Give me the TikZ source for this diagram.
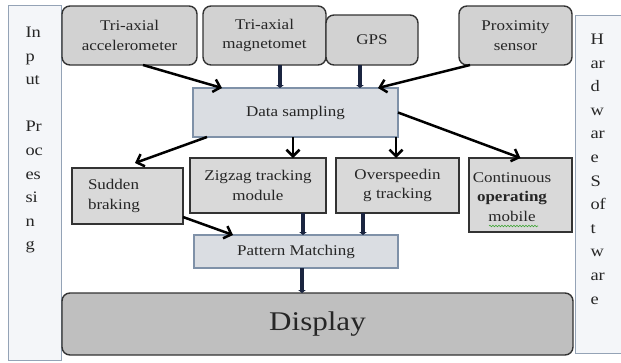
\documentclass[tikz,border=0pt]{standalone}
\usepackage{fontspec}
\setmainfont[FakeStretch=1.15]{Liberation Serif}
\usetikzlibrary{arrows.meta,decorations.pathmorphing}
\definecolor{panelfill}{HTML}{F4F6F9}
\definecolor{paneledge}{HTML}{94A3B6}
\definecolor{topfill}{HTML}{D2D2D2}
\definecolor{boxedge}{HTML}{333333}
\definecolor{midfill}{HTML}{D9D9D9}
\definecolor{procfill}{HTML}{DADDE2}
\definecolor{procedge}{HTML}{7F91A8}
\definecolor{dispfill}{HTML}{BFBFBF}
\definecolor{navy}{HTML}{1B2540}
\definecolor{squiggle}{HTML}{3FA535}
\begin{document}
\begin{tikzpicture}[x=1pt,y=-1pt,
  every node/.style={inner sep=0pt, outer sep=0pt},
  boxtext/.style={font=\fontsize{14.8}{19.5}\selectfont, align=center, text=black!85},
  sensor/.style={boxtext, draw=boxedge, line width=1.4pt, fill=topfill, rounded corners=8pt},
  stage/.style={boxtext, draw=boxedge, line width=1.4pt, fill=midfill},
  proc/.style={boxtext, draw=procedge, line width=1.2pt, fill=procfill},
  panel/.style={draw=paneledge, line width=1pt, fill=panelfill},
  paneltext/.style={font=\fontsize{16}{23.6}\selectfont, align=left, anchor=north west, text=black!85},
  blackarr/.style={line width=2.5pt, black, -{Straight Barb[length=6.5pt,width=13pt]}},
  navyarr/.style={line width=3.8pt, navy, -{Triangle[length=3pt,width=7.5pt]}}
]
\useasboundingbox (0,0) rectangle (621,362);

% side panels
\node[panel, minimum width=53pt, minimum height=355pt] (lpanel) at (34.5,182.5) {};
\node[panel, minimum width=60pt, minimum height=338pt] (rpanel) at (605,184) {};
\node[paneltext] (ltext) at (25.5,27) {In\\p\\ut\\\mbox{}\\Pr\\oc\\es\\si\\n\\g};
\node[paneltext] (rtext) at (590.5,34) {H\\ar\\d\\w\\ar\\e\\S\\of\\t\\w\\ar\\e};

% sensors
\node[sensor, minimum width=135pt, minimum height=59pt] (acc) at (129.5,35.5) {Tri-axial\\accelerometer};
\node[sensor, minimum width=123pt, minimum height=59pt] (mag) at (264.5,35.5) {Tri-axial\\magnetomet};
\node[sensor, minimum width=92pt, minimum height=50pt] (gps) at (372,40) {GPS};
\node[sensor, minimum width=113pt, minimum height=59pt] (prox) at (515.5,35.5) {Proximity\\sensor};

% processing stages
\node[proc, minimum width=205pt, minimum height=49pt] (ds) at (295.5,112.5) {Data sampling};
\node[stage, minimum width=111pt, minimum height=56pt, text width=79pt, align=left] (sb) at (127.5,196) {Sudden\\braking};
\node[stage, minimum width=136pt, minimum height=55pt] (zz) at (258,185.5) {Zigzag tracking\\module};
\node[stage, minimum width=123pt, minimum height=55pt] (os) at (397.5,185.5) {Overspeedin\\g tracking};
\node[stage, minimum width=103pt, minimum height=74pt] (cm) at (520.5,195) {};
\node[boxtext] (cmtext) at (512,197) {Continuous\\\textbf{operating}\\mobile};
\draw[squiggle, line width=0.6pt, decorate, decoration={snake, amplitude=0.8pt, segment length=3pt}]
  (489,226) -- (538,226);
\node[proc, minimum width=204pt, minimum height=33pt] (pm) at (296,251.5) {Pattern Matching};
\node[boxtext, draw=boxedge, line width=1.4pt, fill=dispfill, rounded corners=8pt,
      minimum width=511pt, minimum height=62pt, font=\fontsize{27}{30}\selectfont] (disp) at (317.5,324) {Display};

% connectors
\draw[blackarr] ([xshift=13.5pt]acc.south) -- ([xshift=-73.5pt]ds.north);
\draw[navyarr] ([xshift=15.5pt]mag.south) -- ([xshift=15.5pt]mag.south |- ds.north);
\draw[navyarr] ([xshift=-12pt]gps.south) -- ([xshift=-12pt]gps.south |- ds.north);
\draw[blackarr] ([xshift=-45.5pt]prox.south) -- ([xshift=82.5pt]ds.north);
\draw[blackarr] ([xshift=-88.5pt]ds.south) -- ([xshift=7.5pt,yshift=5pt]sb.north);
\draw[blackarr] ([xshift=-2.5pt]ds.south) -- ([xshift=-2.5pt]ds.south |- zz.north);
\draw[blackarr] ([xshift=100.5pt]ds.south) -- ([xshift=100.5pt]ds.south |- os.north);
\draw[blackarr] (ds.east) -- (cm.north);
\draw[blackarr] ([yshift=-21pt]sb.east) -- ([xshift=-63pt]pm.north);
\draw[navyarr] ([xshift=45pt]zz.south) -- ([xshift=45pt]zz.south |- pm.north);
\draw[navyarr] ([xshift=-34.5pt]os.south) -- ([xshift=-34.5pt]os.south |- pm.north);
\draw[navyarr] ([xshift=6pt]pm.south) -- ([xshift=6pt]pm.south |- disp.north);
\end{tikzpicture}
\end{document}
